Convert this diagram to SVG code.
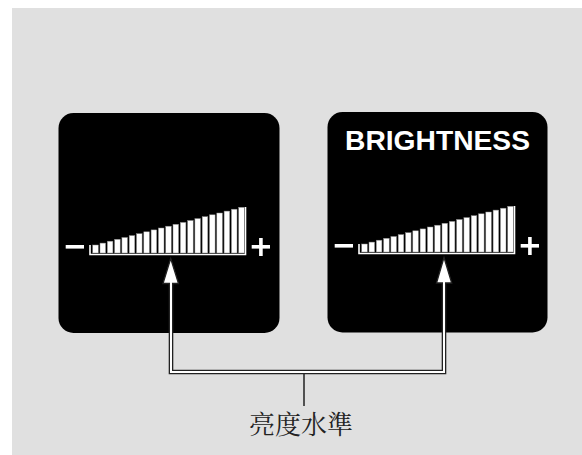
<svg xmlns="http://www.w3.org/2000/svg" xmlns:xlink="http://www.w3.org/1999/xlink" width="582" height="455" viewBox="0 0 582 455">
<style>
.panel{fill:#000}
.bar{fill:#fff;stroke:#888;stroke-width:0.5}
.white{fill:#fff}
.bracket{fill:none;stroke:#fff;stroke-width:1.6}
.title{font-family:"Liberation Sans",Arial,sans-serif;font-weight:bold;font-size:28px;fill:#fff}
.label{font-family:"Noto Serif CJK TC","Noto Sans CJK TC",serif;font-size:26px;fill:#222}
.cdark{fill:none;stroke:#222;stroke-width:4.6}
.cwhite{fill:none;stroke:#fff;stroke-width:2}
.head{fill:#fff;stroke:#222;stroke-width:1.3;stroke-linejoin:miter}
.stem{fill:none;stroke:#222;stroke-width:1.5}
</style>
<defs>
<g id="gauge">
<rect class="white" x="65.7" y="245" width="18.3" height="3.6"/>
<rect class="white" x="251.7" y="245" width="18.3" height="3.6"/>
<rect class="white" x="259.1" y="238" width="3.6" height="18"/>
<polyline class="bracket" points="90,245 90,254.5 245.5,254.5 245.5,207"/>
<rect class="bar" x="92.7" y="245.0" width="5.6" height="8.0"/>
<rect class="bar" x="100.0" y="243.1" width="5.6" height="9.9"/>
<rect class="bar" x="107.3" y="241.2" width="5.6" height="11.8"/>
<rect class="bar" x="114.6" y="239.3" width="5.6" height="13.7"/>
<rect class="bar" x="121.9" y="237.5" width="5.6" height="15.5"/>
<rect class="bar" x="129.2" y="235.6" width="5.6" height="17.4"/>
<rect class="bar" x="136.5" y="233.7" width="5.6" height="19.3"/>
<rect class="bar" x="143.8" y="231.8" width="5.6" height="21.2"/>
<rect class="bar" x="151.1" y="229.9" width="5.6" height="23.1"/>
<rect class="bar" x="158.4" y="228.0" width="5.6" height="25.0"/>
<rect class="bar" x="165.7" y="226.2" width="5.6" height="26.8"/>
<rect class="bar" x="173.0" y="224.3" width="5.6" height="28.7"/>
<rect class="bar" x="180.3" y="222.4" width="5.6" height="30.6"/>
<rect class="bar" x="187.6" y="220.5" width="5.6" height="32.5"/>
<rect class="bar" x="194.9" y="218.6" width="5.6" height="34.4"/>
<rect class="bar" x="202.2" y="216.7" width="5.6" height="36.3"/>
<rect class="bar" x="209.5" y="214.8" width="5.6" height="38.2"/>
<rect class="bar" x="216.8" y="213.0" width="5.6" height="40.0"/>
<rect class="bar" x="224.1" y="211.1" width="5.6" height="41.9"/>
<rect class="bar" x="231.4" y="209.2" width="5.6" height="43.8"/>
<rect class="bar" x="238.7" y="207.3" width="5.6" height="45.7"/>
</g>
</defs>
<rect x="0" y="0" width="582" height="455" fill="#fff"/>
<rect x="12" y="8" width="570" height="447" fill="#e0e0e0"/>
<g id="panel-left">
<rect class="panel" x="58.5" y="113" width="221" height="220" rx="15"/>
<use xlink:href="#gauge"/>
</g>
<g id="panel-right">
<rect class="panel" x="327.5" y="112" width="220" height="220.5" rx="15"/>
<text class="title" x="437.5" y="150" text-anchor="middle" textLength="185" lengthAdjust="spacingAndGlyphs">BRIGHTNESS</text>
<use xlink:href="#gauge" transform="translate(269,-1)"/>
</g>
<g id="connectors">
<polyline class="cdark" points="171,282 171,372 444,372 444,281"/>
<polygon class="head" points="170.7,258.5 178.5,283.5 163,283.5"/>
<polygon class="head" points="444,257.5 451.7,283 436.5,283"/>
<polyline class="cwhite" points="171,278 171,372 444,372 444,278"/>
<line class="stem" x1="304" y1="374" x2="304" y2="406"/>
</g>
<g id="label">
<text class="label" x="301" y="434" text-anchor="middle">亮度水準</text>
</g>
</svg>
